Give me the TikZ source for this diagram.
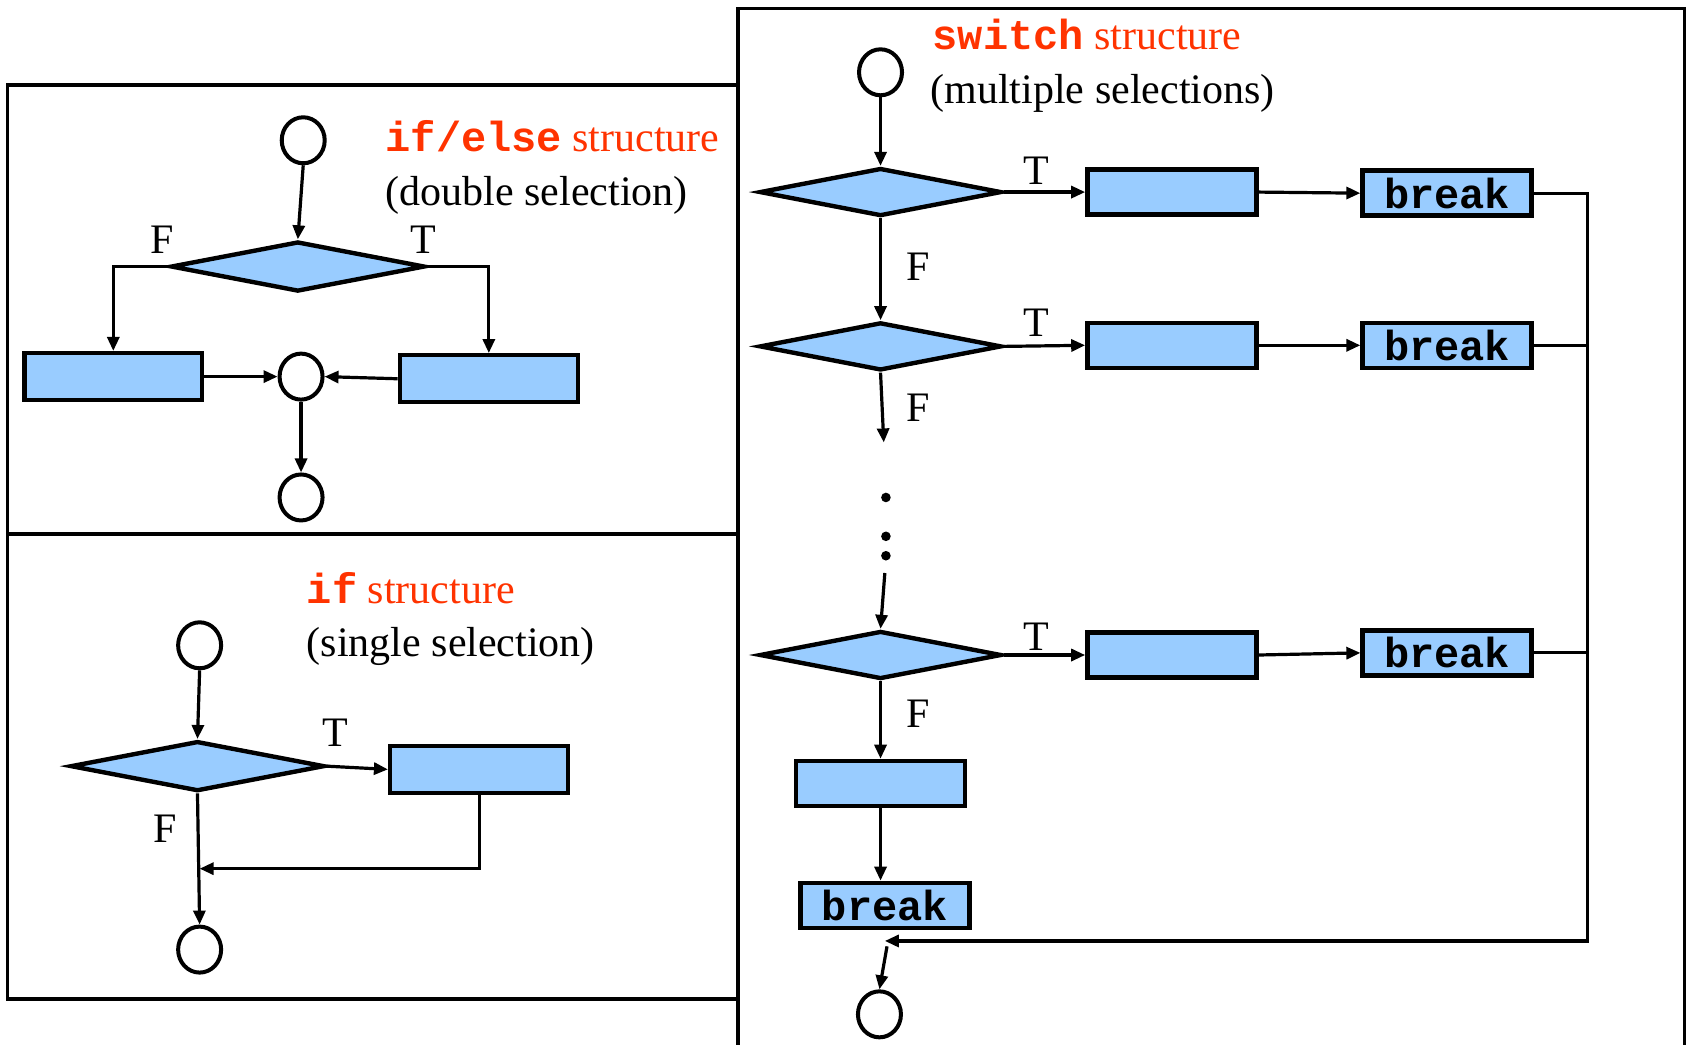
\documentclass[tikz,border=0pt]{standalone}
\usepackage{fontspec}
\setmainfont{Liberation Serif}
\setmonofont{Liberation Mono}
\usetikzlibrary{shapes.geometric, arrows.meta, positioning, calc}
\definecolor{flowBlue}{RGB}{153, 204, 255}
\definecolor{titleRed}{RGB}{255, 51, 0}

\begin{document}
\begin{tikzpicture}[x=0.5396pt, y=-0.5396pt,
        font=\fontsize{21}{25}\selectfont,
        term/.style={draw, ellipse, line width=2pt, minimum width=21.5pt, minimum height=23pt, inner sep=0pt},
        decision/.style={draw, diamond, fill=flowBlue, line width=2.2pt, inner sep=0pt, minimum width=121pt, minimum height=24pt},
        widedecision/.style={decision, minimum width=127pt, minimum height=25pt},
        action/.style={draw, rectangle, fill=flowBlue, line width=2.2pt, inner sep=0pt, minimum width=84.5pt, minimum height=22.5pt},
        wideaction/.style={action, minimum width=89pt, minimum height=23.5pt},
        breakbox/.style={action, font=\fontsize{21}{25}\selectfont\ttfamily\bfseries},
        flow/.style={line width=1.6pt, -{Triangle[length=7pt, width=6pt]}},
        link/.style={line width=1.6pt},
        frame/.style={line width=1.8pt},
        title/.style={anchor=base west, inner sep=0pt},
        tf/.style={inner sep=0pt}]
    \useasboundingbox (0,0) rectangle (1568,968);

    % frames
    \draw[frame] (7,79) rectangle (684,495);
    \draw[frame] (7,495) rectangle (684,926);
    \draw[frame] (684,990) -- (684,8) -- (1561,8) -- (1561,990);

    % if/else structure
    \node[title] (ie_title) at (357,140) {\textcolor{titleRed}{\texttt{\textbf{if/else}} structure}};
    \node[title] (ie_sub) at (357,190) {(double selection)};
    \node[term] (ie_start) at (281,130) {};
    \node[widedecision] (ie_dec) at (276,247) {};
    \node[wideaction] (ie_false) at (105,349) {};
    \node[wideaction] (ie_true) at (453,351) {};
    \node[term] (ie_merge) at (279,349) {};
    \node[term] (ie_end) at (279,461) {};
    \node[tf] (ie_f) at (150,222) {F};
    \node[tf] (ie_t) at (392,222) {T};
    \draw[flow] (ie_start.south) -- (ie_dec.north);
    \draw[flow] (ie_dec.west) -| (ie_false.north);
    \draw[flow] (ie_dec.east) -| (ie_true.north);
    \draw[flow] (ie_false.east) -- (ie_merge.west);
    \draw[flow] (ie_true.west) -- (ie_merge.east);
    \draw[flow] (ie_merge.south) -- (ie_end.north);

    % if structure
    \node[title] (if_title) at (284,559) {\textcolor{titleRed}{\texttt{\textbf{if}} structure}};
    \node[title] (if_sub) at (284,608) {(single selection)};
    \node[term] (if_start) at (185,598) {};
    \node[widedecision] (if_dec) at (183,710) {};
    \node[wideaction] (if_true) at (444,713) {};
    \node[term] (if_end) at (185,880) {};
    \node[tf] (if_t) at (311,679) {T};
    \node[tf] (if_f) at (153,768) {F};
    \coordinate (if_join) at (185,805);
    \draw[flow] (if_start.south) -- (if_dec.north);
    \draw[flow] (if_dec.east) -- (if_true.west);
    \draw[flow] (if_dec.south) -- (if_end.north);
    \draw[flow] (if_true.south) |- (if_join);

    % switch structure
    \node[title] (sw_title) at (864,46) {\textcolor{titleRed}{\texttt{\textbf{switch}} structure}};
    \node[title] (sw_sub) at (862,96) {(multiple selections)};
    \node[term] (sw_start) at (816,67) {};
    \node[decision] (sw_dec1) at (816,178) {};
    \node[action] (sw_act1) at (1086,178) {};
    \node[breakbox] (sw_brk1) at (1341,179) {break};
    \node[decision] (sw_dec2) at (816,321) {};
    \node[action] (sw_act2) at (1086,320) {};
    \node[breakbox] (sw_brk2) at (1341,320) {break};
    \node[decision] (sw_dec3) at (816,607) {};
    \node[action] (sw_act3) at (1086,607) {};
    \node[breakbox] (sw_brk3) at (1341,605) {break};
    \node[action] (sw_act4) at (816,726) {};
    \node[breakbox] (sw_brk4) at (820,839) {break};
    \node[term] (sw_end) at (815,940) {};
    \foreach \k/\ty/\fy in {1/158/247, 2/299/378, 3/590/661}
        {\node[tf] (sw_t\k) at (960,\ty) {T};
         \node[tf] (sw_f\k) at (851,\fy) {F};}
    \coordinate (sw_more) at (819,410);
    \coordinate (sw_resume) at (820,531);
    \coordinate (sw_bus) at (1471,872);
    \coordinate (sw_join) at (820,872);
    \coordinate (sw_exit) at (822,877);
    \foreach \y in {461,497,515}
        \fill (821,\y) circle (2.4pt);
    \draw[flow] (sw_start.south) -- (sw_dec1.north);
    \draw[flow] (sw_dec1.south) -- (sw_dec2.north);
    \draw[flow] (sw_dec2.south) -- (sw_more);
    \draw[flow] (sw_resume) -- (sw_dec3.north);
    \draw[flow] (sw_dec3.south) -- (sw_act4.north);
    \draw[flow] (sw_act4.south) -- (sw_act4.south |- sw_brk4.north);
    \foreach \k in {1,2,3}
        {\draw[flow] (sw_dec\k.east) -- (sw_act\k.west);
         \draw[flow] (sw_act\k.east) -- (sw_brk\k.west);}
    \draw[link] (sw_brk2.east) -- (sw_brk2.east -| sw_bus);
    \draw[link] (sw_brk3.east) -- (sw_brk3.east -| sw_bus);
    \draw[flow] (sw_brk1.east) -| (sw_bus) -- (sw_join);
    \draw[flow] (sw_exit) -- (sw_end.north);
\end{tikzpicture}
\end{document}
